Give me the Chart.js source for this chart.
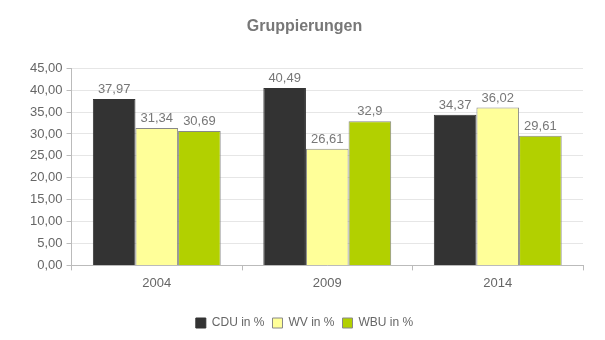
<!DOCTYPE html>
<html>
<head>
<meta charset="utf-8">
<script src="https://cdn.jsdelivr.net/npm/chart.js@4"></script>
<style>
  html, body { margin: 0; padding: 0; background: #fff; }
  #wrap { width: 605px; height: 340px; }
</style>
</head>
<body>
<div id="wrap"><canvas id="gruppenChart"></canvas></div>
<script>
const years = ["2004", "2009", "2014"];
const cdu = [37.97, 40.49, 34.37];
const wv = [31.34, 26.61, 36.02];
const wbu = [30.69, 32.9, 29.61];

const fmt = (v) => String(v).replace(".", ",");

// draws the value above each bar
const valueLabels = {
  id: "valueLabels",
  afterDatasetsDraw(chart) {
    const c = chart.ctx;
    c.save();
    c.font = "13px 'Liberation Sans', Arial, sans-serif";
    c.fillStyle = "#777";
    c.textAlign = "center";
    c.textBaseline = "bottom";
    chart.data.datasets.forEach((ds, i) => {
      chart.getDatasetMeta(i).data.forEach((bar, j) => {
        c.fillText(fmt(ds.data[j]), bar.x, bar.y - 3);
      });
    });
    c.restore();
  },
};

const ctx = document.getElementById("gruppenChart").getContext("2d");
new Chart(ctx, {
  type: "bar",
  data: {
    labels: years,
    datasets: [
      {
        label: "CDU in %",
        data: cdu,
        backgroundColor: "#333333",
        borderColor: "#333333",
        borderWidth: 1,
      },
      {
        label: "WV in %",
        data: wv,
        backgroundColor: "#ffff99",
        borderColor: "#888888",
        borderWidth: 1,
      },
      {
        label: "WBU in %",
        data: wbu,
        backgroundColor: "#b2d000",
        borderColor: "#888888",
        borderWidth: 1,
      },
    ],
  },
  options: {
    responsive: true,
    maintainAspectRatio: false,
    animation: false,
    categoryPercentage: 0.75,
    barPercentage: 1,
    layout: { padding: { left: 26, right: 22, top: 0, bottom: 1 } },
    scales: {
      x: {
        grid: {
          drawOnChartArea: false,
          tickLength: 5,
          tickColor: "#bbb",
        },
        border: { color: "#bbb" },
        ticks: {
          color: "#666",
          font: { size: 13, family: "'Liberation Sans', Arial, sans-serif" },
          padding: 5,
        },
        afterFit: (s) => { s.height += 13; },
      },
      y: {
        min: 0,
        max: 45,
        grid: {
          color: "#e6e6e6",
          tickColor: "#bbb",
          tickLength: 5,
        },
        border: { color: "#bbb" },
        ticks: {
          stepSize: 5,
          color: "#666",
          font: { size: 13, family: "'Liberation Sans', Arial, sans-serif" },
          padding: 4,
          callback: (v) => v.toFixed(2).replace(".", ","),
        },
      },
    },
    plugins: {
      title: {
        display: true,
        text: "Gruppierungen",
        color: "#777",
        font: { size: 16, weight: "bold", family: "'Liberation Sans', Arial, sans-serif" },
        padding: { top: 17, bottom: 32 },
      },
      legend: {
        position: "bottom",
        labels: {
          boxWidth: 10,
          boxHeight: 10,
          color: "#666",
          font: { size: 12, family: "'Liberation Sans', Arial, sans-serif" },
          padding: 8,
        },
      },
      tooltip: { enabled: false },
    },
  },
  plugins: [valueLabels],
});
</script>
</body>
</html>
